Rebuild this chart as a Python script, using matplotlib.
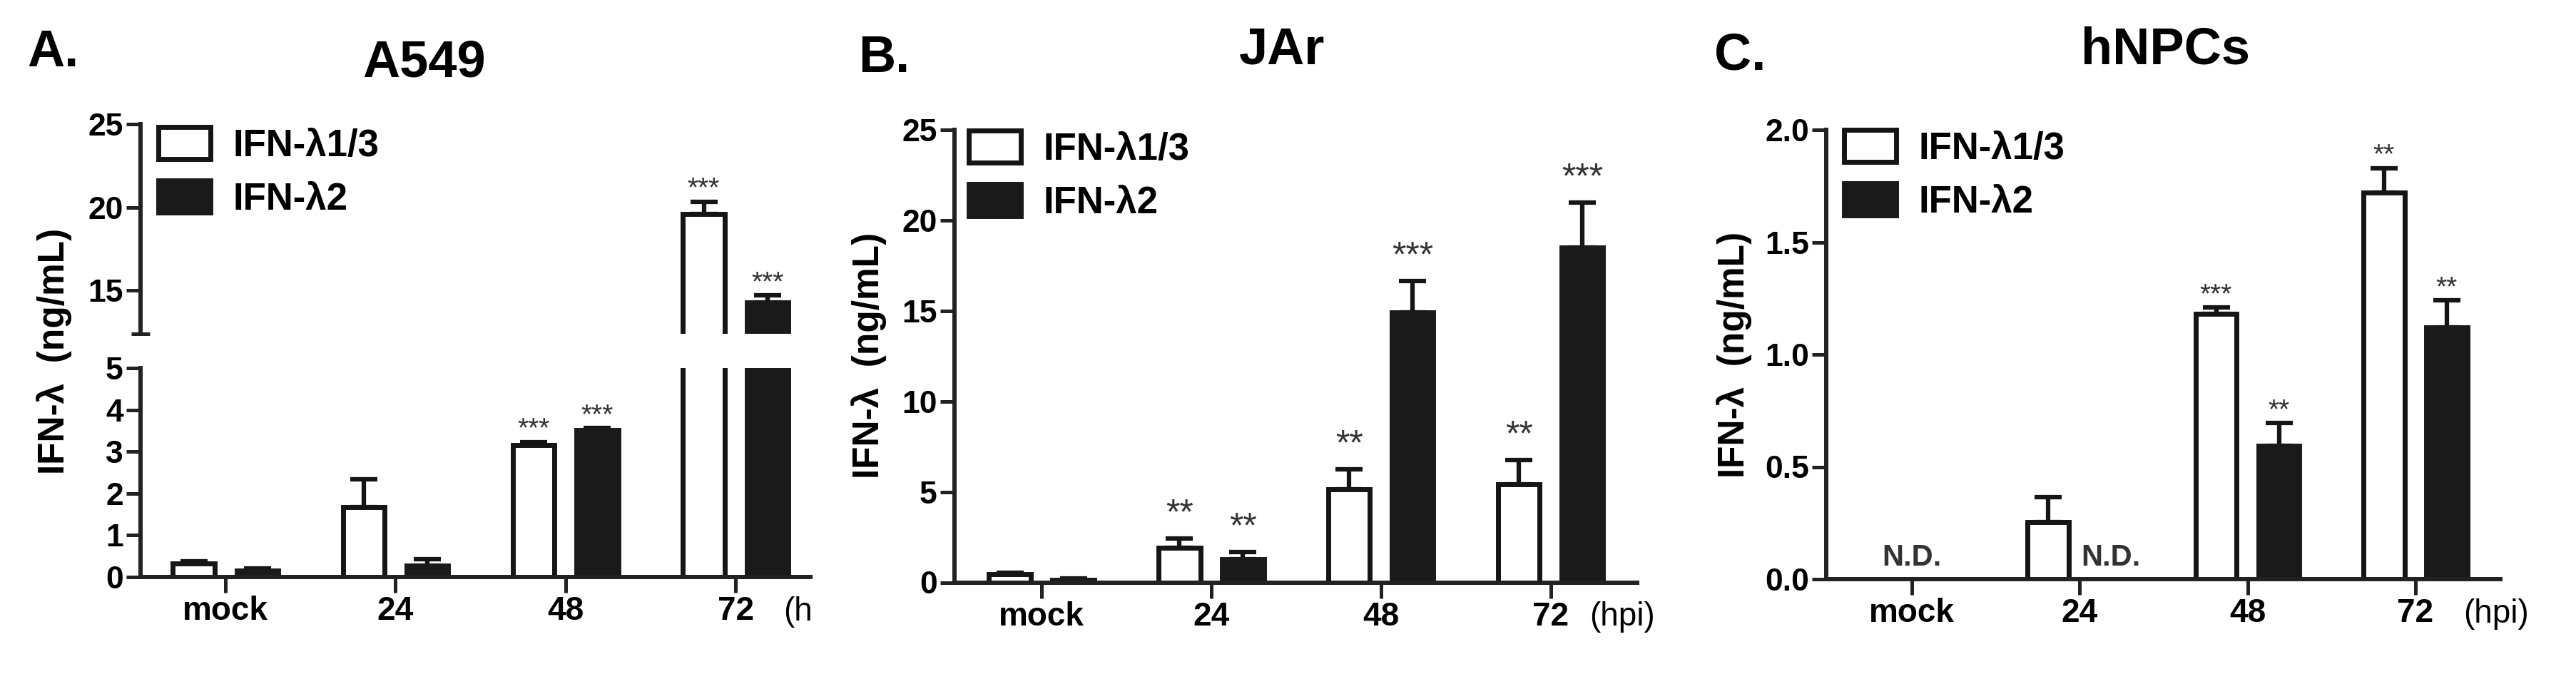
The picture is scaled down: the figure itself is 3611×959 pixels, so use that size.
import numpy as np
import matplotlib
matplotlib.use("Agg")
import matplotlib.pyplot as plt
from matplotlib.patches import Patch
from matplotlib.ticker import FormatStrFormatter

plt.rcParams['font.family'] = ['Liberation Sans', 'DejaVu Sans']

# data
groups = ['mock', '24', '48', '72']
series = ['IFN-λ1/3', 'IFN-λ2']

# A549
a_white = [0.32, 1.68, 3.15, 19.6]
a_white_err = [0.05, 0.65, 0.08, 0.75]
a_black = [0.15, 0.28, 3.52, 14.3]
a_black_err = [0.05, 0.15, 0.04, 0.4]
a_white_sig = ['', '', '***', '***']
a_black_sig = ['', '', '***', '***']

# JAr
b_white = [0.44, 1.91, 5.15, 5.4]
b_white_err = [0.08, 0.5, 1.1, 1.35]
b_black = [0.15, 1.28, 14.9, 18.5]
b_black_err = [0.05, 0.4, 1.75, 2.48]
b_white_sig = ['', '**', '**', '**']
b_black_sig = ['', '**', '***', '***']

# hNPCs (nan = N.D.)
c_white = [np.nan, 0.255, 1.18, 1.72]
c_white_err = [0, 0.11, 0.03, 0.11]
c_black = [np.nan, np.nan, 0.595, 1.12]
c_black_err = [0, 0, 0.1, 0.12]
c_white_sig = ['', '', '***', '**']
c_black_sig = ['', '', '**', '**']

W, H = 3612, 959
fig = plt.figure(figsize=(W / 100, H / 100), dpi=100)

INK = '#151515'
FILL = '#1a1a1a'
off = 0.187
bw = 0.245
x = np.arange(len(groups))


def px_axes(left, top, right, bottom):
    return fig.add_axes([left / W, 1 - bottom / H, (right - left) / W, (bottom - top) / H])


def style(ax, xaxis=True):
    for s in ['top', 'right']:
        ax.spines[s].set_visible(False)
    for s in ['left', 'bottom']:
        ax.spines[s].set_linewidth(4.3)
        ax.spines[s].set_color('#222222')
    ax.tick_params(axis='y', length=14.4, width=3.6, color='#222222', pad=3,
                   labelsize=32)
    ax.tick_params(axis='x', length=16, width=3.6, color='#222222', pad=3,
                   labelsize=33)
    for lab in ax.get_yticklabels() + ax.get_xticklabels():
        lab.set_fontweight('bold')
    if xaxis:
        ax.set_xticks(x)
        ax.set_xticklabels(groups, fontweight='bold')
    else:
        ax.spines['bottom'].set_visible(False)
        ax.set_xticks([])


def bars(ax, white, werr, black, berr):
    ax.bar(x - off, white, width=bw, facecolor='white', edgecolor=INK, linewidth=5, zorder=2)
    ax.bar(x + off, black, width=bw, facecolor=FILL, edgecolor=FILL, linewidth=5, zorder=2)
    for xs, v, e in [(x - off, white, werr), (x + off, black, berr)]:
        ax.errorbar(xs, v, yerr=[np.zeros(len(v)), e], fmt='none', ecolor=INK,
                    elinewidth=4.5, capsize=14, capthick=4.5, zorder=1)


def stars(ax, vals, errs, sig, dx, ylim, fs, dy):
    for xi, v, e, s in zip(x, vals, errs, sig):
        if s and ylim[0] <= v + e <= ylim[1]:
            ax.annotate(s, (xi + dx, v + e), xytext=(0, dy), textcoords='offset points',
                        ha='center', va='baseline', fontsize=fs, color='#333333',
                        annotation_clip=False)


def legend(ax, left, top):
    handles = [Patch(facecolor='white', edgecolor=INK, linewidth=5),
               Patch(facecolor=FILL, edgecolor=FILL, linewidth=5)]
    ax.legend(handles, series, loc='upper left', bbox_to_anchor=(left / W, 1 - top / H),
              bbox_transform=fig.transFigure, frameon=False, borderpad=0, borderaxespad=0,
              handlelength=1.38, handleheight=0.93, handletextpad=0.6, labelspacing=0.45,
              prop={'size': 38, 'weight': 'bold'})


def hpi(ax, xpos, text):
    ax.annotate(text, (xpos, 0), xycoords=ax.get_xaxis_transform(), xytext=(0, -35),
                textcoords='offset points', ha='left', va='center', fontsize=33,
                annotation_clip=False)


# ---- A549 (broken axis) ----
a_lo = px_axes(197, 516, 1136, 809)
a_hi = px_axes(197, 174, 1136, 468)
lo_lim, hi_lim = (0, 5), (12.4, 25)
for ax, lim in [(a_lo, lo_lim), (a_hi, hi_lim)]:
    bars(ax, a_white, a_white_err, a_black, a_black_err)
    ax.set_ylim(*lim)
    ax.set_xlim(-0.5, 3.44)
    stars(ax, a_white, a_white_err, a_white_sig, -off, lim, 28, 5)
    stars(ax, a_black, a_black_err, a_black_sig, off, lim, 28, 5)
a_lo.set_yticks([0, 1, 2, 3, 4, 5])
a_hi.set_yticks([15, 20, 25])
style(a_lo)
style(a_hi, xaxis=False)
a_lo.set_yticks([5], minor=True)
a_lo.tick_params(axis='y', which='minor', direction='in', length=11, width=3.6, color='#222222')
a_hi.set_yticks([12.4], minor=True)
a_hi.tick_params(axis='y', which='minor', direction='inout', length=19, width=3.6, color='#222222')
legend(a_hi, 222, 178)
hpi(a_lo, 3.28, '(h')
fig.text(76, H - 492, 'IFN-λ  (ng/mL)', transform=None, rotation=90, ha='center',
         va='center', fontsize=37, fontweight='bold')

# ---- JAr ----
b = px_axes(1338, 182, 2295, 816.5)
bars(b, b_white, b_white_err, b_black, b_black_err)
b.set_ylim(0, 25)
b.set_xlim(-0.513, 3.51)
b.set_yticks([0, 5, 10, 15, 20, 25])
stars(b, b_white, b_white_err, b_white_sig, -off, (0, 25), 36, 15)
stars(b, b_black, b_black_err, b_black_sig, off, (0, 25), 36, 15)
style(b)
legend(b, 1358, 183)
hpi(b, 3.23, '(hpi)')
fig.text(1218, H - 498, 'IFN-λ  (ng/mL)', transform=None, rotation=90, ha='center',
         va='center', fontsize=37, fontweight='bold')

# ---- hNPCs ----
c = px_axes(2560, 182, 3505, 812)
bars(c, c_white, c_white_err, c_black, c_black_err)
c.set_ylim(0, 2.0)
c.set_xlim(-0.51, 3.506)
c.set_yticks([0, 0.5, 1.0, 1.5, 2.0])
c.yaxis.set_major_formatter(FormatStrFormatter('%.1f'))
stars(c, c_white, c_white_err, c_white_sig, -off, (0, 2), 28, 5)
stars(c, c_black, c_black_err, c_black_sig, off, (0, 2), 28, 5)
style(c)
for xi, v, dx in [(0, c_white[0], 0.0), (1, c_black[1], off)]:
    if np.isnan(v):
        c.annotate('N.D.', (xi + dx, 0), xytext=(0, 14), textcoords='offset points',
                   ha='center', va='baseline', fontsize=30, fontweight='bold', color='#333333')
legend(c, 2585, 182)
hpi(c, 3.285, '(hpi)')
fig.text(2431, H - 497, 'IFN-λ  (ng/mL)', transform=None, rotation=90, ha='center',
         va='center', fontsize=37, fontweight='bold')

# titles and panel letters
for xc, yb, t in [(595, 107, 'A549'), (1797, 89, 'JAr'), (3035, 90, 'hNPCs')]:
    fig.text(xc, H - yb, t, transform=None, ha='center', va='baseline', fontsize=52,
             fontweight='bold')
for xl, yb, t in [(38, 93, 'A.'), (1203, 101, 'B.'), (2403, 98, 'C.')]:
    fig.text(xl, H - yb, t, transform=None, ha='left', va='baseline', fontsize=52,
             fontweight='bold')

fig.savefig('out.png', dpi=100, facecolor='white')
